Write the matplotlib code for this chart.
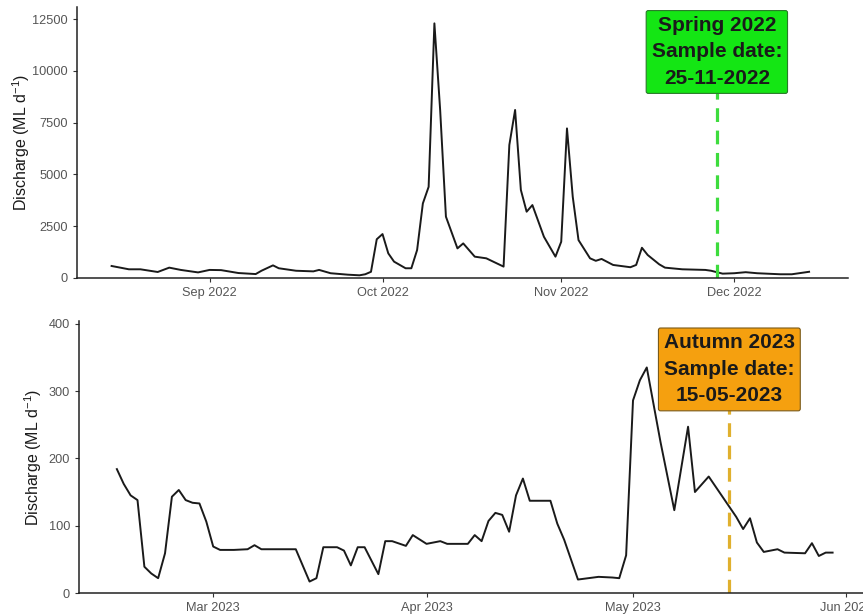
import pandas as pd
import matplotlib
matplotlib.use("Agg")
from matplotlib import pyplot as plt
import matplotlib.dates as mdates

plt.rcParams['font.family'] = ['Liberation Sans', 'DejaVu Sans']
plt.rcParams['mathtext.default'] = 'regular'

# spring 2022 discharge (ML/d)
SPRING_DATES = ['2022-08-15', '2022-08-18', '2022-08-20', '2022-08-23', '2022-08-25', '2022-08-27',
                '2022-08-30', '2022-09-01', '2022-09-03', '2022-09-06', '2022-09-09', '2022-09-10',
                '2022-09-12', '2022-09-13', '2022-09-16', '2022-09-19', '2022-09-20', '2022-09-22',
                '2022-09-25', '2022-09-27', '2022-09-28', '2022-09-29', '2022-09-30', '2022-10-01',
                '2022-10-02', '2022-10-03', '2022-10-05', '2022-10-06', '2022-10-07', '2022-10-08',
                '2022-10-09', '2022-10-10', '2022-10-11', '2022-10-12', '2022-10-14', '2022-10-15',
                '2022-10-17', '2022-10-19', '2022-10-22', '2022-10-23', '2022-10-24', '2022-10-25',
                '2022-10-26', '2022-10-27', '2022-10-29', '2022-10-31', '2022-11-01', '2022-11-02',
                '2022-11-03', '2022-11-04', '2022-11-06', '2022-11-07', '2022-11-08', '2022-11-10',
                '2022-11-13', '2022-11-14', '2022-11-15', '2022-11-16', '2022-11-18', '2022-11-19',
                '2022-11-22', '2022-11-26', '2022-11-27', '2022-11-29', '2022-12-01', '2022-12-03',
                '2022-12-05', '2022-12-09', '2022-12-11', '2022-12-13', '2022-12-14']
SPRING_Q = [580, 420, 420, 290, 500, 390,
            270, 390, 380, 240, 190, 350,
            610, 470, 350, 320, 390, 230,
            160, 130, 180, 300, 1870, 2120,
            1190, 790, 470, 470, 1350, 3600,
            4400, 12290, 8100, 2960, 1430, 1670,
            1030, 950, 550, 6420, 8110, 4250,
            3200, 3520, 1990, 1030, 1750, 7220,
            3920, 1830, 950, 830, 920, 630,
            520, 630, 1460, 1110, 660, 500,
            420, 390, 350, 210, 230, 280,
            230, 180, 180, 260, 300]

# autumn 2023 discharge (ML/d)
AUTUMN_DATES = ['2023-02-15', '2023-02-16', '2023-02-17', '2023-02-18', '2023-02-19', '2023-02-20',
                '2023-02-21', '2023-02-22', '2023-02-23', '2023-02-24', '2023-02-25', '2023-02-26',
                '2023-02-27', '2023-02-28', '2023-03-01', '2023-03-02', '2023-03-04', '2023-03-06',
                '2023-03-07', '2023-03-08', '2023-03-13', '2023-03-15', '2023-03-16', '2023-03-17',
                '2023-03-19', '2023-03-20', '2023-03-21', '2023-03-22', '2023-03-23', '2023-03-25',
                '2023-03-26', '2023-03-27', '2023-03-29', '2023-03-30', '2023-04-01', '2023-04-03',
                '2023-04-04', '2023-04-07', '2023-04-08', '2023-04-09', '2023-04-10', '2023-04-11',
                '2023-04-12', '2023-04-13', '2023-04-14', '2023-04-15', '2023-04-16', '2023-04-19',
                '2023-04-20', '2023-04-21', '2023-04-23', '2023-04-26', '2023-04-28', '2023-04-29',
                '2023-04-30', '2023-05-01', '2023-05-02', '2023-05-03', '2023-05-05', '2023-05-07',
                '2023-05-09', '2023-05-10', '2023-05-12', '2023-05-15', '2023-05-16', '2023-05-17',
                '2023-05-18', '2023-05-19', '2023-05-20', '2023-05-22', '2023-05-23', '2023-05-26',
                '2023-05-27', '2023-05-28', '2023-05-29', '2023-05-30']
AUTUMN_Q = [184, 162, 145, 138, 39, 29,
            22, 59, 143, 153, 138, 134,
            133, 106, 69, 64, 64, 65,
            71, 65, 65, 17, 22, 68,
            68, 63, 41, 68, 68, 28,
            77, 77, 70, 86, 73, 77,
            73, 73, 86, 77, 107, 119,
            116, 91, 145, 170, 137, 137,
            103, 79, 20, 24, 23, 22,
            56, 286, 316, 335, 224, 123,
            247, 150, 173, 128, 113, 95,
            111, 75, 61, 65, 60, 59,
            74, 55, 60, 60]

SPRING_SAMPLE = '2022-11-28'
AUTUMN_SAMPLE = '2023-05-15'
SPRING_LABEL = 'Spring 2022\nSample date:\n25-11-2022'
AUTUMN_LABEL = 'Autumn 2023\nSample date:\n15-05-2023'

W, H = 863, 616


def px_axes(fig, left, top, right, bottom):
    return fig.add_axes([left / W, (H - bottom) / H, (right - left) / W, (bottom - top) / H])


def style_axes(ax):
    for side in ['top', 'right']:
        ax.spines[side].set_visible(False)
    for side in ['left', 'bottom']:
        ax.spines[side].set_color('#222222')
        ax.spines[side].set_linewidth(1.1)
    ax.tick_params(colors='#555555', labelsize=9.2, length=3, width=0.8)
    ax.tick_params(axis='both', color='#333333')
    ax.xaxis.set_major_locator(mdates.MonthLocator())
    ax.xaxis.set_major_formatter(mdates.DateFormatter('%b %Y'))
    ax.set_ylabel('Discharge (ML d$^{-1}$)', fontsize=11.5, color='#1a1a1a')


def sample_box(ax, date, yfrac, label, face, edge):
    ax.text(pd.to_datetime(date), yfrac, label, transform=ax.get_xaxis_transform(),
            ha='center', va='center', fontsize=15, fontweight='bold', color='#1a1a1a',
            linespacing=1.5, zorder=5,
            bbox=dict(boxstyle='round,pad=0.26,rounding_size=0.1', fc=face, ec=edge, lw=0.8))


fig = plt.figure(figsize=(W / 100, H / 100), dpi=100)
fig.patch.set_facecolor('white')

# spring panel
ax1 = px_axes(fig, 77, 7, 848, 278)
ax1.plot(pd.to_datetime(SPRING_DATES), SPRING_Q, color='#1a1a1a', lw=1.4)
ax1.axvline(pd.to_datetime(SPRING_SAMPLE), ymax=0.8, color='#3ddc3d', lw=2.3, dashes=(4.3, 2.7))
ax1.set_xlim(pd.to_datetime('2022-08-09'), pd.to_datetime('2022-12-20 18:00'))
ax1.set_ylim(0, 13080)
ax1.set_yticks([0, 2500, 5000, 7500, 10000, 12500])
style_axes(ax1)
ax1.yaxis.set_label_coords(-0.058, 0.5)
sample_box(ax1, SPRING_SAMPLE, 0.834, SPRING_LABEL, '#14e614', '#2a7a2a')

# autumn panel
ax2 = px_axes(fig, 79, 321, 867, 593)
ax2.plot(pd.to_datetime(AUTUMN_DATES), AUTUMN_Q, color='#1a1a1a', lw=1.4)
ax2.axvline(pd.to_datetime(AUTUMN_SAMPLE), ymax=0.8, color='#e0b02e', lw=2.3, dashes=(4.3, 2.7))
ax2.set_xlim(pd.to_datetime('2023-02-09 12:00'), pd.to_datetime('2023-06-04'))
ax2.set_ylim(0, 404)
ax2.set_yticks([0, 100, 200, 300, 400])
style_axes(ax2)
ax2.yaxis.set_label_coords(-0.044, 0.5)
sample_box(ax2, AUTUMN_SAMPLE, 0.822, AUTUMN_LABEL, '#f5a00f', '#7a5a1a')

fig.savefig('out.png', dpi=100)
